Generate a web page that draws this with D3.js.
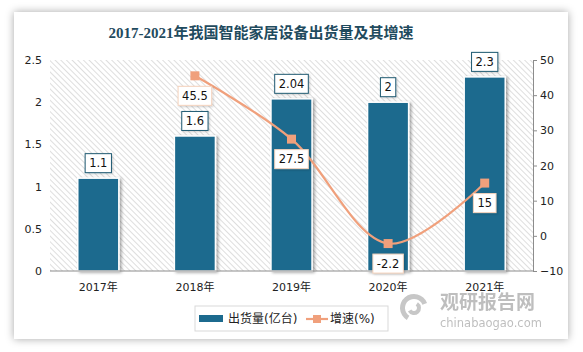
<!DOCTYPE html>
<html>
<head>
<meta charset="utf-8">
<script src="https://cdn.jsdelivr.net/npm/d3@7"></script>
<style>
  html, body { margin: 0; padding: 0; background: #fff; }
  svg { display: block; }
  text { font-family: "DejaVu Sans", "Noto Sans CJK SC", sans-serif; }
</style>
</head>
<body>
<svg id="chart" width="583" height="352"></svg>
<script>
const years = ["2017年", "2018年", "2019年", "2020年", "2021年"];
const shipments = [1.1, 1.6, 2.04, 2, 2.3];
const growth = [null, 45.5, 27.5, -2.2, 15];
const leftTicks = [0, 0.5, 1, 1.5, 2, 2.5];
const rightTicks = [-10, 0, 10, 20, 30, 40, 50];

const title = "2017-2021年我国智能家居设备出货量及其增速";
const barColor = "#1c6a8e";
const lineColor = "#f0a07c";

const svg = d3.select("#chart");
const defs = svg.append("defs");

// card shadow
const cardShadow = defs.append("filter").attr("id", "cardShadow")
    .attr("x", "-5%").attr("y", "-5%").attr("width", "110%").attr("height", "110%");
cardShadow.append("feDropShadow").attr("dx", 0).attr("dy", 0)
    .attr("stdDeviation", 4).attr("flood-color", "#000").attr("flood-opacity", 0.35);

// bar shadow
const barShadow = defs.append("filter").attr("id", "barShadow")
    .attr("x", "-20%").attr("y", "-20%").attr("width", "150%").attr("height", "150%");
barShadow.append("feDropShadow").attr("dx", 2).attr("dy", 1)
    .attr("stdDeviation", 1.5).attr("flood-color", "#000").attr("flood-opacity", 0.35);

const boxShadow = defs.append("filter").attr("id", "boxShadow")
    .attr("x", "-20%").attr("y", "-20%").attr("width", "150%").attr("height", "150%");
boxShadow.append("feDropShadow").attr("dx", 1).attr("dy", 1)
    .attr("stdDeviation", 1).attr("flood-color", "#000").attr("flood-opacity", 0.2);

// hatch pattern
const hatch = defs.append("pattern").attr("id", "hatch")
    .attr("patternUnits", "userSpaceOnUse").attr("width", 4).attr("height", 4)
    .attr("patternTransform", "rotate(-45)");
hatch.append("rect").attr("width", 4).attr("height", 4).attr("fill", "#fff");
hatch.append("line").attr("x1", 0).attr("y1", 0).attr("x2", 0).attr("y2", 4)
    .attr("stroke", "#cdcdcd").attr("stroke-width", 1.3);

// card
svg.append("rect").attr("x", 14).attr("y", 12).attr("width", 554).attr("height", 327)
    .attr("fill", "#fff").attr("filter", "url(#cardShadow)");

const plot = { left: 50, right: 533, top: 60, bottom: 271 };

svg.append("text")
    .attr("x", 261).attr("y", 38)
    .attr("text-anchor", "middle")
    .style("font-family", "'Liberation Serif', 'Noto Sans CJK SC', serif")
    .style("font-size", "15px").style("font-weight", "bold")
    .attr("fill", "#1f4b5e")
    .text(title);

const x = d3.scaleBand().domain(years).range([plot.left, plot.right])
    .paddingInner(0.575).paddingOuter(0.2875);
const y = d3.scaleLinear().domain([0, 2.5]).range([plot.bottom, plot.top]);
const y2 = d3.scaleLinear().domain([-10, 50]).range([plot.bottom, plot.top]);

// hatched plot background
svg.append("rect").attr("x", plot.left).attr("y", plot.top)
    .attr("width", plot.right - plot.left).attr("height", plot.bottom - plot.top)
    .attr("fill", "url(#hatch)");

// left axis (labels only)
const gLeft = svg.append("g").attr("transform", `translate(${plot.left},0)`)
    .call(d3.axisLeft(y).tickValues(leftTicks).tickSize(0).tickPadding(8).tickFormat(d => d));
gLeft.select(".domain").remove();
gLeft.selectAll("text").style("font-size", "11px").attr("fill", "#222");

// right axis
const gRight = svg.append("g").attr("transform", `translate(${plot.right},0)`)
    .call(d3.axisRight(y2).tickValues(rightTicks).tickSize(4).tickPadding(3));
gRight.select(".domain").attr("stroke", "#8c8c8c");
gRight.selectAll(".tick line").attr("stroke", "#8c8c8c");
gRight.selectAll("text").style("font-size", "11px").attr("fill", "#222");

// bars
svg.append("g").selectAll("rect")
    .data(shipments)
    .join("rect")
    .attr("x", (d, i) => x(years[i]))
    .attr("y", d => y(d))
    .attr("width", x.bandwidth())
    .attr("height", d => y(0) - y(d))
    .attr("fill", barColor)
    .attr("stroke", "#fff").attr("stroke-width", 1.5)
    .attr("filter", "url(#barShadow)");

// bottom axis
const gBottom = svg.append("g").attr("transform", `translate(0,${plot.bottom})`)
    .call(d3.axisBottom(x).tickSize(0).tickPadding(12));
gBottom.select(".domain").attr("stroke", "#8c8c8c").attr("d", `M${plot.left},0H${plot.right}`);
gBottom.selectAll("text").style("font-size", "11px").attr("fill", "#222");

// value label with box
function labelBox(g, cx, cy, txt, stroke) {
    const t = g.append("text").attr("x", cx).attr("y", cy).attr("dy", "0.35em")
        .attr("text-anchor", "middle").style("font-size", "11.5px").attr("fill", "#111").text(txt);
    const bb = t.node().getBBox();
    g.insert("rect", "text")
        .attr("x", bb.x - 4).attr("y", cy - 9.5)
        .attr("width", bb.width + 8).attr("height", 19)
        .attr("fill", "#fff").attr("stroke", stroke).attr("stroke-width", 1)
        .attr("filter", "url(#boxShadow)");
}

shipments.forEach((d, i) => {
    const g = svg.append("g");
    labelBox(g, x(years[i]) + x.bandwidth() / 2, y(d) - 15, d, "#1f5a72");
});

// growth line
const pts = growth.map((d, i) => ({ d, cx: x(years[i]) + x.bandwidth() / 2 })).filter(p => p.d !== null);
const line = d3.line().x(p => p.cx).y(p => y2(p.d)).curve(d3.curveCatmullRom.alpha(0.5));
svg.append("path").datum(pts).attr("d", line)
    .attr("fill", "none").attr("stroke", lineColor).attr("stroke-width", 2.2);

svg.append("g").selectAll("rect")
    .data(pts)
    .join("rect")
    .attr("x", p => p.cx - 4.5).attr("y", p => y2(p.d) - 4.5)
    .attr("width", 9).attr("height", 9)
    .attr("fill", lineColor);

pts.forEach(p => {
    const g = svg.append("g");
    labelBox(g, p.cx, y2(p.d) + 20, p.d, "#f5d3bd");
});

// legend
const lg = svg.append("g");
lg.append("rect").attr("x", 195).attr("y", 306).attr("width", 193).attr("height", 25)
    .attr("fill", "#fff").attr("stroke", "#d9d9d9");
lg.append("rect").attr("x", 199).attr("y", 315).attr("width", 24).attr("height", 7).attr("fill", barColor);
lg.append("text").attr("x", 228).attr("y", 319).attr("dy", "0.35em")
    .style("font-size", "12px").attr("fill", "#222").text("出货量(亿台)");
lg.append("line").attr("x1", 306).attr("x2", 328).attr("y1", 319).attr("y2", 319)
    .attr("stroke", lineColor).attr("stroke-width", 2.2);
lg.append("rect").attr("x", 313).attr("y", 315).attr("width", 8).attr("height", 8).attr("fill", lineColor);
lg.append("text").attr("x", 330).attr("y", 319).attr("dy", "0.35em")
    .style("font-size", "12px").attr("fill", "#222").text("增速(%)");

// watermark
const wm = svg.append("g").attr("opacity", 0.55);
wm.append("path")
    .attr("d", d3.arc()({ innerRadius: 9, outerRadius: 14, startAngle: -2.6, endAngle: 1.2 }))
    .attr("transform", "translate(414,308)").attr("fill", "#9a9a9a");
wm.append("path")
    .attr("d", d3.arc()({ innerRadius: 3, outerRadius: 7, startAngle: 0.6, endAngle: 4.2 }))
    .attr("transform", "translate(414,308)").attr("fill", "#9a9a9a");
wm.append("text").attr("x", 440).attr("y", 309)
    .style("font-family", "'Noto Sans CJK SC', sans-serif")
    .style("font-size", "19px").style("font-weight", "bold")
    .attr("fill", "#8a8a8a").text("观研报告网");
wm.append("text").attr("x", 440).attr("y", 327)
    .style("font-family", "'DejaVu Sans', sans-serif")
    .style("font-size", "11.5px")
    .attr("fill", "#8a8a8a").text("chinabaogao.com");
</script>
</body>
</html>
